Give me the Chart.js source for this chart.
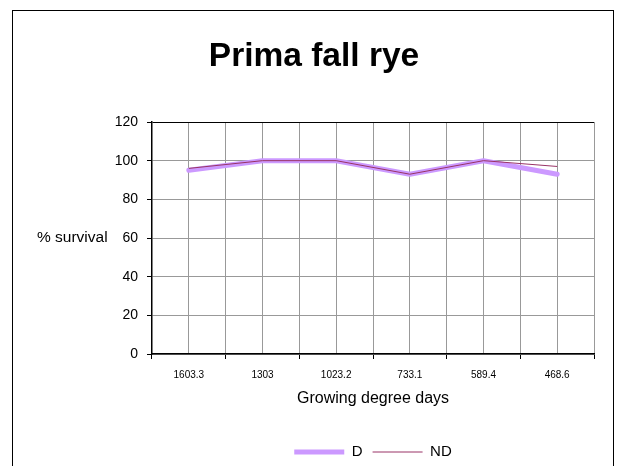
<!DOCTYPE html>
<html>
<head>
<meta charset="utf-8">
<script src="https://cdn.jsdelivr.net/npm/chart.js@4"></script>
<style>
  html, body { margin: 0; padding: 0; background: #fff; overflow: hidden; }
  #wrap { position: relative; width: 620px; height: 466px; }
  #frame { position: absolute; left: 12px; top: 10px; width: 600px; height: 470px; border: 1px solid #000; pointer-events: none; }
  canvas { position: absolute; left: 0; top: 0; }
</style>
</head>
<body>
<div id="wrap">
  <canvas id="c" width="620" height="466"></canvas>
  <div id="frame"></div>
</div>
<script>
const titleText = 'Prima fall rye';
const xTitle = 'Growing degree days';
const yTitle = '% survival';
const categories = ['1603.3', '1303', '1023.2', '733.1', '589.4', '468.6'];
const seriesD = [95, 100, 100, 93, 100, 93];
const seriesND = [96, 100, 100, 93, 100, 97];
const yTicks = [0, 20, 40, 60, 80, 100, 120];

Chart.defaults.font.family = '"Liberation Sans", Arial, sans-serif';
Chart.defaults.color = '#000';

const GRID = '#999999';

const yLabelPlugin = {
  id: 'yLabel',
  afterDraw(chart) {
    const ctx = chart.ctx;
    const a = chart.chartArea;
    ctx.save();
    ctx.font = '15.5px "Liberation Sans", Arial, sans-serif';
    ctx.fillStyle = '#000';
    ctx.textAlign = 'left';
    ctx.textBaseline = 'middle';
    ctx.fillText(yTitle, 37, (a.top + a.bottom) / 2);
    ctx.restore();
  }
};

new Chart(document.getElementById('c'), {
  type: 'line',
  data: {
    labels: categories,
    datasets: [
      {
        label: 'D',
        data: seriesD,
        borderColor: '#CC99FF',
        backgroundColor: '#CC99FF',
        borderWidth: 5,
        borderCapStyle: 'round',
        borderJoinStyle: 'round',
        pointRadius: 0,
        tension: 0,
        order: 1
      },
      {
        label: 'ND',
        data: seriesND,
        borderColor: '#993366',
        backgroundColor: '#993366',
        borderWidth: 1,
        pointRadius: 0,
        tension: 0,
        order: 0
      }
    ]
  },
  plugins: [yLabelPlugin],
  options: {
    responsive: false,
    animation: false,
    devicePixelRatio: 1,
    layout: { padding: { left: 34, right: 26, top: 0, bottom: 0 } },
    plugins: {
      tooltip: { enabled: false },
      title: {
        display: true,
        text: titleText,
        color: '#000',
        font: { size: 33.5, weight: 'bold' },
        padding: { top: 36.9, bottom: 44.9 }
      },
      legend: {
        position: 'bottom',
        fullSize: false,
        maxHeight: 31.5,
        labels: {
          usePointStyle: true,
          pointStyle: 'line',
          pointStyleWidth: 50,
          padding: 10,
          color: '#000',
          font: { size: 15 },
          sort: (a, b) => a.datasetIndex - b.datasetIndex
        }
      }
    },
    scales: {
      x: {
        type: 'category',
        offset: true,
        afterFit: (s) => { s.height = 80.5; },
        grid: {
          offset: true,
          color: (c) => c.index === categories.length ? '#000' : GRID,
          tickColor: '#000',
          tickLength: 5,
          lineWidth: 1
        },
        border: { color: '#000', width: 1.5 },
        ticks: { font: { size: 10 }, padding: 10, maxRotation: 0, autoSkip: false },
        title: {
          display: true,
          text: xTitle,
          font: { size: 16 },
          padding: { top: 8.4, bottom: 26 }
        }
      },
      x2: {
        type: 'category',
        position: 'bottom',
        offset: true,
        afterFit: (s) => { s.height = 0; },
        grid: { offset: false, color: GRID, drawTicks: false },
        border: { display: false },
        ticks: { display: false }
      },
      y: {
        min: 0,
        max: 120,
        afterBuildTicks: (s) => { s.ticks = yTicks.map(v => ({ value: v })); },
        afterFit: (s) => { s.width = 118; },
        grid: {
          color: (c) => (c.tick && c.tick.value === 120) ? '#000' : GRID,
          tickColor: '#000',
          tickLength: 5
        },
        border: { color: '#000', width: 1.5 },
        ticks: { font: { size: 14 }, padding: 9 }
      }
    }
  }
});
</script>
</body>
</html>
